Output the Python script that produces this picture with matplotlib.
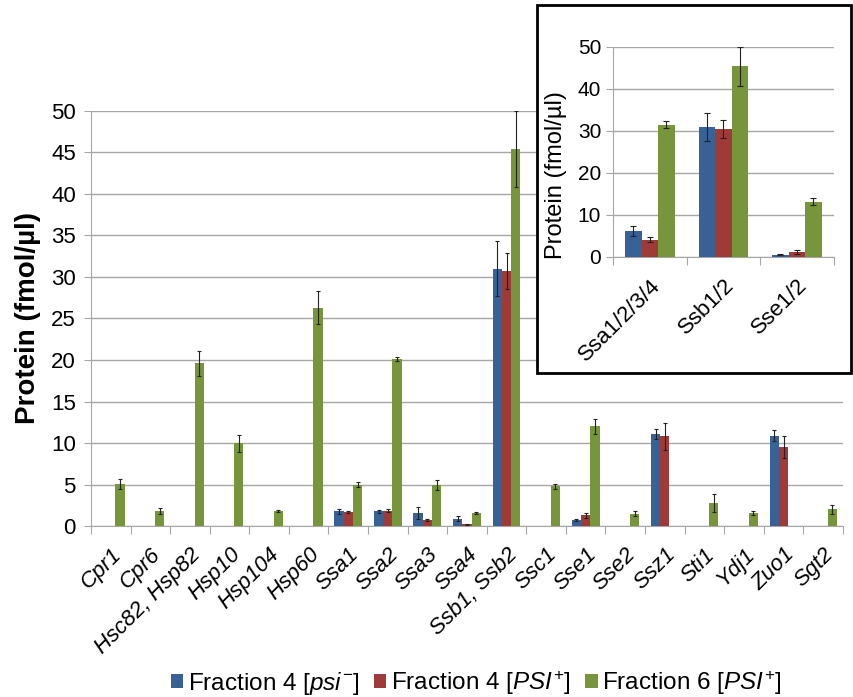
import numpy as np
import matplotlib.pyplot as plt
from matplotlib.patches import Rectangle

plt.rcParams['font.family'] = ['Liberation Sans', 'DejaVu Sans']
plt.rcParams['mathtext.fontset'] = 'custom'
plt.rcParams['mathtext.rm'] = 'Liberation Sans'
plt.rcParams['mathtext.it'] = 'Liberation Sans:italic'

nan = np.nan
proteins = ['Cpr1', 'Cpr6', 'Hsc82, Hsp82', 'Hsp10', 'Hsp104', 'Hsp60', 'Ssa1', 'Ssa2',
            'Ssa3', 'Ssa4', 'Ssb1, Ssb2', 'Ssc1', 'Sse1', 'Sse2', 'Ssz1', 'Sti1', 'Ydj1',
            'Zuo1', 'Sgt2']
# nan = not detected
f4_psi_minus = [nan, nan, nan, nan, nan, nan, 1.8, 1.75, 1.6, 0.9, 31.0, nan, 0.7, nan, 11.1, nan, nan, 10.9, nan]
f4_psi_minus_err = [nan, nan, nan, nan, nan, nan, 0.3, 0.2, 0.7, 0.35, 3.3, nan, 0.1, nan, 0.6, nan, nan, 0.7, nan]
f4_psi_plus = [nan, nan, nan, nan, nan, nan, 1.7, 1.85, 0.7, 0.2, 30.7, nan, 1.3, nan, 10.8, nan, nan, 9.5, nan]
f4_psi_plus_err = [nan, nan, nan, nan, nan, nan, 0.1, 0.2, 0.1, 0.05, 2.2, nan, 0.3, nan, 1.6, nan, nan, 1.3, nan]
f6_psi_plus = [5.1, 1.85, 19.6, 9.95, 1.8, 26.3, 5.0, 20.1, 4.9, 1.56, 45.4, 4.8, 12.0,
               1.45, nan, 2.8, 1.56, nan, 2.0]
f6_psi_plus_err = [0.6, 0.35, 1.5, 1.05, 0.1, 2.0, 0.3, 0.25, 0.6, 0.1, 4.6, 0.3, 0.9,
                   0.3, nan, 1.1, 0.2, nan, 0.5]

groups = ['Ssa1/2/3/4', 'Ssb1/2', 'Sse1/2']
inset_minus = [6.1, 31.0, 0.5]
inset_minus_err = [1.2, 3.3, 0.1]
inset_plus = [4.1, 30.5, 1.2]
inset_plus_err = [0.6, 2.2, 0.4]
inset_f6 = [31.5, 45.4, 13.2]
inset_f6_err = [0.9, 4.6, 0.8]

blue = '#386196'
red = '#9e3a38'
green = '#77953b'
grid_c = '#a6a6a6'

fig = plt.figure(figsize=(8.54, 6.97), dpi=100)
ax = fig.add_axes([0.1066, 0.2453, 0.8804, 0.5955])

x = np.arange(len(proteins))
w = 0.235
ekw = dict(ecolor='#222222', elinewidth=0.8, capsize=1.5, capthick=0.8)
ax.bar(x - w, f4_psi_minus, w, yerr=f4_psi_minus_err, color=blue,
       error_kw=ekw, label=r'Fraction 4 [$\mathit{psi}^{\mathit{-}}$]', zorder=3)
ax.bar(x, f4_psi_plus, w, yerr=f4_psi_plus_err, color=red,
       error_kw=ekw, label=r'Fraction 4 [$\mathit{PSI}^{\mathit{+}}$]', zorder=3)
ax.bar(x + w, f6_psi_plus, w, yerr=f6_psi_plus_err, color=green,
       error_kw=ekw, label=r'Fraction 6 [$\mathit{PSI}^{\mathit{+}}$]', zorder=3)

ax.set_xlim(-0.5, len(proteins) - 0.5)
ax.set_ylim(0, 50)
ax.set_yticks(np.arange(0, 51, 5))
ax.yaxis.grid(True, color=grid_c, linewidth=1)
ax.set_axisbelow(True)
for s in ['top', 'right']:
    ax.spines[s].set_visible(False)
for s in ['left', 'bottom']:
    ax.spines[s].set_color(grid_c)
ax.set_xticks(np.arange(-0.5, len(proteins), 1))
ax.set_xticklabels([])
ax.set_xticks(x, minor=True)
ax.set_xticklabels(proteins, minor=True, rotation=45, ha='right', rotation_mode='anchor',
                   fontsize=16, style='italic')
ax.tick_params(axis='x', which='minor', length=0, pad=13)
ax.tick_params(axis='x', which='major', length=6, color=grid_c, direction='out')
ax.tick_params(axis='y', length=5, color=grid_c, labelsize=16, pad=6)
ax.set_ylabel('Protein (fmol/µl)', fontsize=20, fontweight='bold', labelpad=7)

fig.legend(loc='center', bbox_to_anchor=(0.558, 0.02), ncol=3, frameon=False,
           fontsize=17.5, handlelength=0.5, handleheight=0.5, handletextpad=0.2,
           columnspacing=0.6, borderaxespad=0)

# inset panel
box = Rectangle((0.629, 0.465), 0.368, 0.528, transform=fig.transFigure,
                facecolor='white', edgecolor='black', linewidth=2, zorder=1)
fig.patches.append(box)

ax2 = fig.add_axes([0.7178, 0.6313, 0.2584, 0.3013], zorder=2)
xi = np.arange(len(groups))
iw = 0.225
ekw2 = dict(ecolor='#222222', elinewidth=0.8, capsize=2, capthick=0.8)
ax2.bar(xi - iw, inset_minus, iw, yerr=inset_minus_err, color=blue, error_kw=ekw2, zorder=3)
ax2.bar(xi, inset_plus, iw, yerr=inset_plus_err, color=red, error_kw=ekw2, zorder=3)
ax2.bar(xi + iw, inset_f6, iw, yerr=inset_f6_err, color=green, error_kw=ekw2, zorder=3)
ax2.set_xlim(-0.5, len(groups) - 0.5)
ax2.set_ylim(0, 50)
ax2.set_yticks(np.arange(0, 51, 10))
ax2.yaxis.grid(True, color=grid_c, linewidth=1)
ax2.set_axisbelow(True)
for s in ['top', 'right']:
    ax2.spines[s].set_visible(False)
for s in ['left', 'bottom']:
    ax2.spines[s].set_color(grid_c)
ax2.set_xticks(np.arange(-0.5, len(groups), 1))
ax2.set_xticklabels([])
ax2.set_xticks(xi, minor=True)
ax2.set_xticklabels(groups, minor=True, rotation=45, ha='right', rotation_mode='anchor',
                    fontsize=16)
ax2.tick_params(axis='x', which='minor', length=0, pad=13)
ax2.tick_params(axis='x', which='major', length=6, color=grid_c)
ax2.tick_params(axis='y', length=5, color=grid_c, labelsize=15)
ax2.set_ylabel('Protein (fmol/µl)', fontsize=17)
ax2.yaxis.set_label_coords(-0.21, 0.39)

fig.savefig('out.png', dpi=100)
